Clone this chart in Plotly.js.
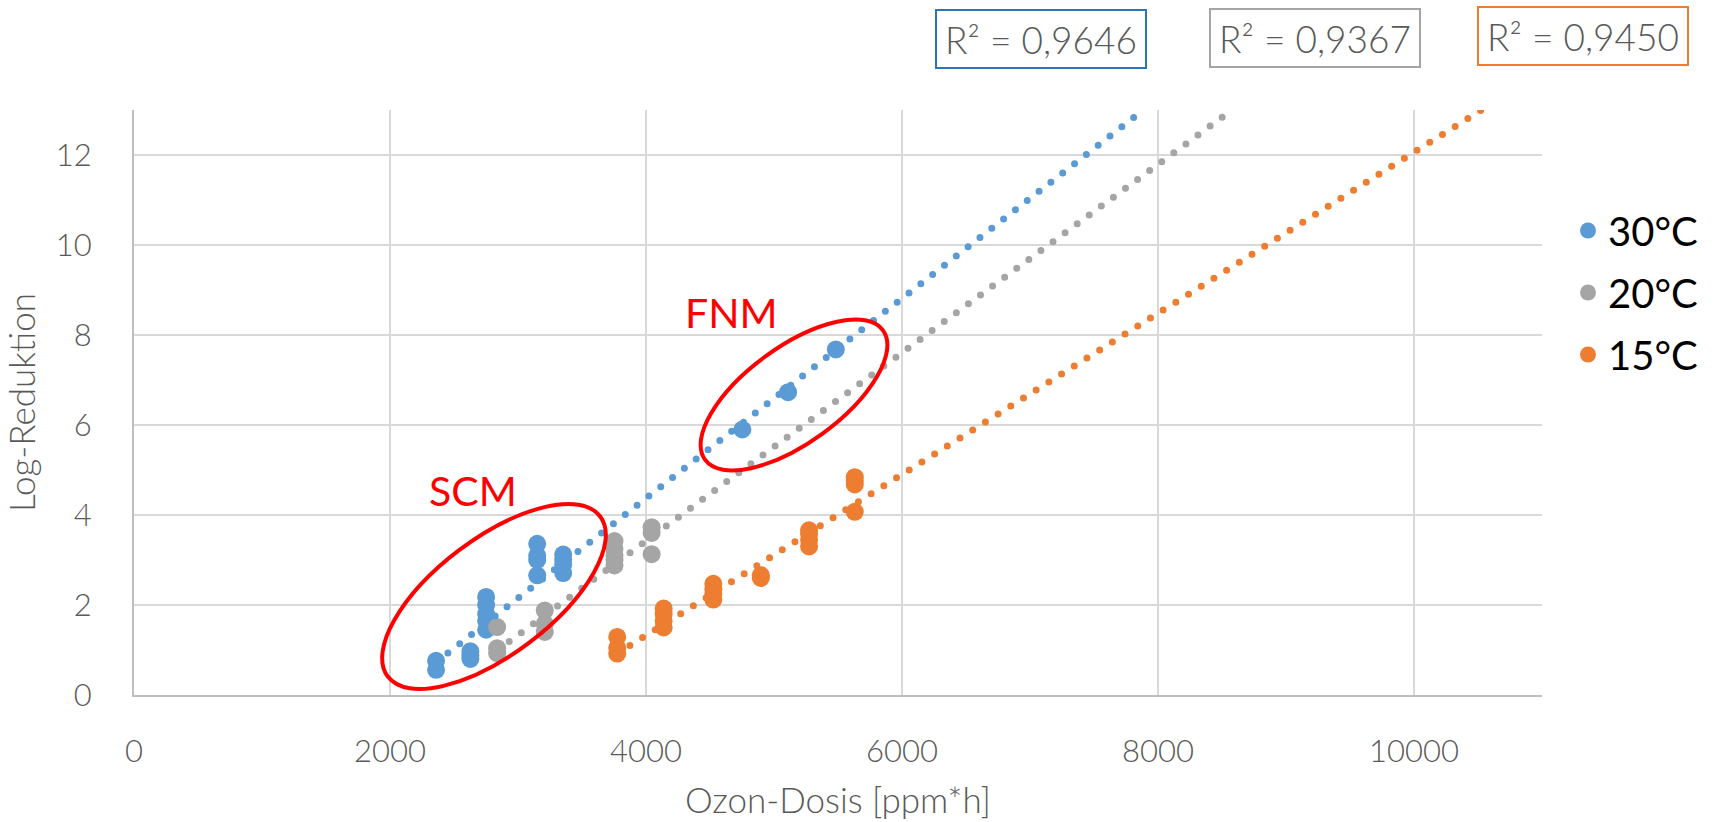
<!DOCTYPE html>
<html><head><meta charset="utf-8">
<script src="https://cdn.plot.ly/plotly-3.0.1.min.js"></script>
<style>
html,body{margin:0;padding:0;background:#fff;}
#chart{width:1721px;height:822px;}
.scatterlayer .js-line{stroke-linecap:round !important;}
</style></head><body><div id="chart"></div>
<script>
// ---- data ----
const seriesNames = ['30°C', '20°C', '15°C'];
const x30 = [2360, 2360, 2628, 2628, 2628, 2751, 2751, 2751, 2751, 2751, 3150, 3150, 3150, 3150, 3353, 3353, 3353, 3353, 4753, 5110, 5483];
const y30 = [0.56, 0.76, 0.80, 0.88, 0.97, 1.45, 1.65, 1.80, 2.00, 2.18, 2.66, 3.00, 3.10, 3.36, 2.71, 2.90, 3.00, 3.12, 5.90, 6.73, 7.68];
const x20 = [2837, 2837, 2837, 3209, 3209, 3209, 3754, 3754, 3754, 3754, 3754, 4044, 4044, 4044];
const y20 = [0.93, 1.04, 1.51, 1.40, 1.58, 1.88, 2.88, 3.00, 3.10, 3.25, 3.42, 3.13, 3.60, 3.73];
const x15 = [3775, 3775, 3775, 4138, 4138, 4138, 4138, 4526, 4526, 4526, 4526, 4897, 4897, 5274, 5274, 5274, 5274, 5631, 5631, 5631, 5631];
const y15 = [0.92, 1.05, 1.29, 1.50, 1.65, 1.80, 1.92, 2.12, 2.25, 2.35, 2.47, 2.60, 2.66, 3.30, 3.45, 3.58, 3.66, 4.07, 4.68, 4.76, 4.84];
// trendline end points
const trendX30 = [2360, 7885];
const trendY30 = [0.73, 13.0];
const trendX20 = [2837, 8578];
const trendY20 = [0.99, 13.0];
const trendX15 = [3775, 10525];
const trendY15 = [0.92, 13.0];
const r2Labels = ['R² = 0,9646', 'R² = 0,9367', 'R² = 0,9450'];
const noteLabels = ['SCM', 'FNM'];
const xTickVals = [0, 2000, 4000, 6000, 8000, 10000];
const xTickText = ['0', '2000', '4000', '6000', '8000', '10000'];
const yTickVals = [0, 2, 4, 6, 8, 10, 12];
const yTickText = ['0', '2', '4', '6', '8', '10', '12'];
const xTitle = 'Ozon-Dosis [ppm*h]';
const yTitle = 'Log-Reduktion';

// ---- styling / geometry ----
const colors = ['#5B9BD5', '#A5A5A5', '#ED7D31'];
const boxColors = ['#2E75B6', '#A5A5A5', '#ED7D31'];
const W = 1721, H = 822;
const M = {l: 134, r: 179, t: 110, b: 127};
const XR = [0, 11000], YR = [0, 13];
const pw = W - M.l - M.r, ph = H - M.t - M.b;
const pxX = pw / (XR[1] - XR[0]), pxY = ph / (YR[1] - YR[0]);
const FONT = 'Lato, "Open Sans", sans-serif';
function pxToPaperX(px) { return (px - M.l) / pw; }
function pxToPaperY(py) { return (H - M.b - py) / ph; }
function pxToDataX(px) { return XR[0] + (px - M.l) / pxX; }
function pxToDataY(py) { return YR[0] + (H - M.b - py) / pxY; }

function ellipsePath(cpx, cpy, a, b, deg) {
  const cx = pxToDataX(cpx), cy = pxToDataY(cpy);
  const t = deg * Math.PI / 180, k = 0.5523;
  const c = Math.cos(t), s = Math.sin(t);
  const P = (u, v) => {
    const px = u * c - v * s, py = u * s + v * c;
    return (cx + px / pxX).toFixed(2) + ',' + (cy + py / pxY).toFixed(4);
  };
  return 'M' + P(a, 0) +
    ' C' + P(a, k * b) + ' ' + P(k * a, b) + ' ' + P(0, b) +
    ' C' + P(-k * a, b) + ' ' + P(-a, k * b) + ' ' + P(-a, 0) +
    ' C' + P(-a, -k * b) + ' ' + P(-k * a, -b) + ' ' + P(0, -b) +
    ' C' + P(k * a, -b) + ' ' + P(a, -k * b) + ' ' + P(a, 0) + ' Z';
}

function pts(x, y, i) {
  return {x: x, y: y, type: 'scatter', mode: 'markers', name: seriesNames[i],
    legendgroup: 'g' + i,
    marker: {color: colors[i], size: 18, line: {width: 0}}, hoverinfo: 'x+y'};
}
function trend(x, y, i) {
  return {x: x, y: y, type: 'scatter', mode: 'lines', showlegend: false,
    line: {color: colors[i], width: 7, dash: '0px,15px'}, hoverinfo: 'skip'};
}

const data = [
  pts(x30, y30, 0), pts(x20, y20, 1), pts(x15, y15, 2),
  trend(trendX30, trendY30, 0), trend(trendX20, trendY20, 1), trend(trendX15, trendY15, 2)
];

const boxCenters = [[1040.6, 39.3], [1315, 38], [1582.5, 36]];
const annotations = r2Labels.map((t, i) => ({
  text: t, xref: 'paper', yref: 'paper',
  x: pxToPaperX(boxCenters[i][0]), y: pxToPaperY(boxCenters[i][1]),
  xanchor: 'center', yanchor: 'middle', showarrow: false,
  width: 208, height: 56, borderwidth: 2, borderpad: 0,
  bordercolor: boxColors[i], bgcolor: 'rgba(0,0,0,0)',
  font: {family: FONT, size: 37, color: '#595959', weight: 300}
}));
const noteCenters = [[472.5, 490], [731.5, 312]];
noteLabels.forEach((t, i) => annotations.push({
  text: t, xref: 'x', yref: 'y',
  x: pxToDataX(noteCenters[i][0]), y: pxToDataY(noteCenters[i][1]),
  xanchor: 'center', yanchor: 'middle', showarrow: false,
  font: {family: FONT, size: 41, color: '#FF0000'}
}));

const shapes = [
  {type: 'path', xref: 'x', yref: 'y', path: ellipsePath(494, 596.5, 133, 58, 37),
   line: {color: '#FF0000', width: 4}, fillcolor: 'rgba(0,0,0,0)'},
  {type: 'path', xref: 'x', yref: 'y', path: ellipsePath(794, 395, 110, 48, 36),
   line: {color: '#FF0000', width: 4}, fillcolor: 'rgba(0,0,0,0)'}
];

const layout = {
  width: W, height: H,
  margin: M,
  paper_bgcolor: '#ffffff', plot_bgcolor: '#ffffff',
  font: {family: FONT, color: '#595959'},
  showlegend: true,
  legend: {x: pxToPaperX(1568), y: pxToPaperY(198), xanchor: 'left', yanchor: 'top',
    font: {family: FONT, size: 40, color: '#000000'},
    traceorder: 'grouped', tracegroupgap: 7, bgcolor: 'rgba(0,0,0,0)'},
  xaxis: {range: XR, tickvals: xTickVals, ticktext: xTickText, showgrid: true, gridcolor: '#D9D9D9', gridwidth: 2,
    zeroline: false, showline: true, linecolor: '#BFBFBF', linewidth: 2, ticks: '',
    ticklabelstandoff: 28, tickfont: {family: FONT, size: 31, color: '#595959', weight: 300},
    title: {text: xTitle, font: {family: FONT, size: 35, color: '#595959', weight: 300}, standoff: 20},
    automargin: false, fixedrange: true},
  yaxis: {range: YR, tickvals: yTickVals, ticktext: yTickText, showgrid: true, gridcolor: '#D9D9D9', gridwidth: 2,
    zeroline: false, showline: true, linecolor: '#BFBFBF', linewidth: 2, ticks: '',
    ticklabelstandoff: 34, tickfont: {family: FONT, size: 31, color: '#595959', weight: 300},
    title: {text: yTitle, font: {family: FONT, size: 35, color: '#595959', weight: 300}, standoff: 20},
    automargin: false, fixedrange: true},
  annotations: annotations,
  shapes: shapes
};

Plotly.newPlot('chart', data, layout, {staticPlot: true, displayModeBar: false});
</script></body></html>
